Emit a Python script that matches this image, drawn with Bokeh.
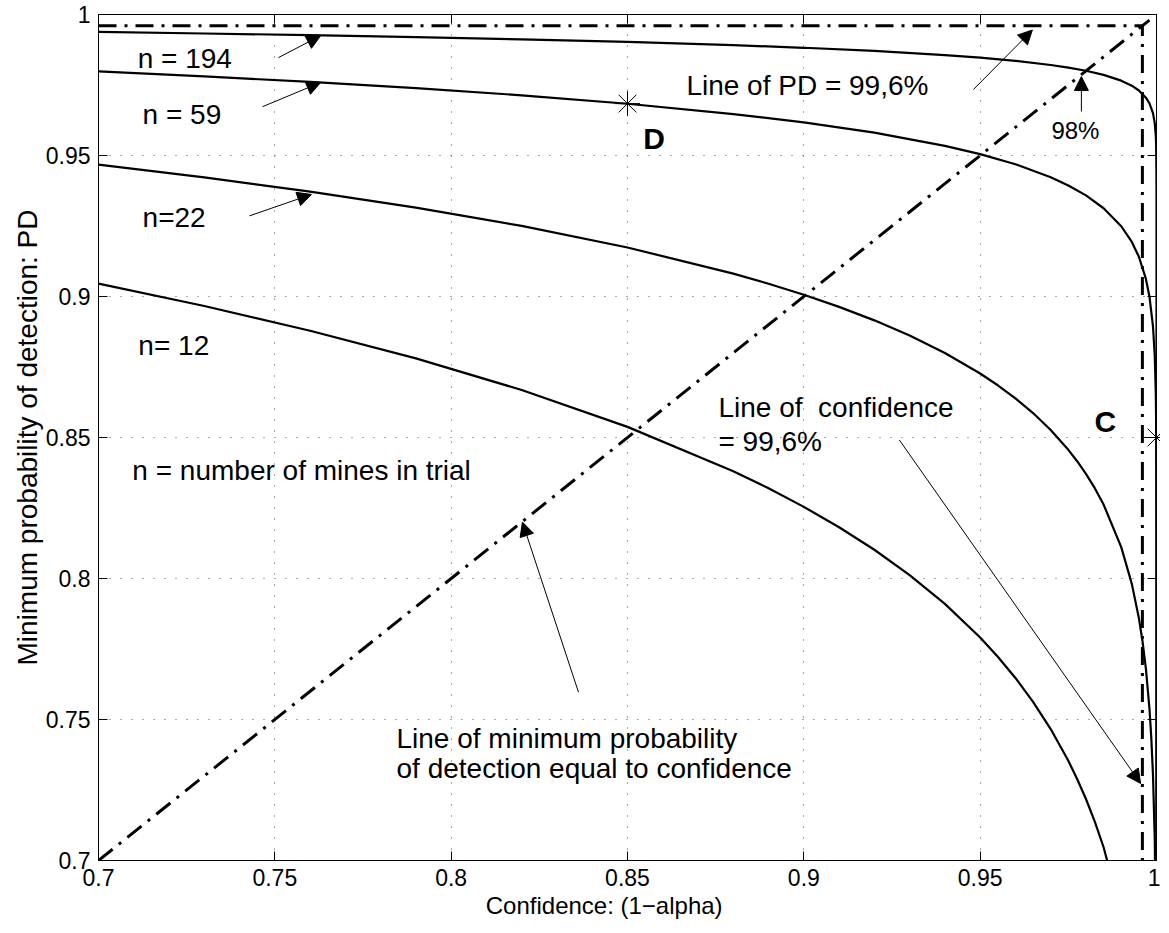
from bokeh.plotting import figure
from bokeh.models import (Arrow, NormalHead, Label, LinearAxis, FixedTicker,
                          CustomJSTickFormatter, Range1d)
from bokeh.embed import file_html
from bokeh.resources import INLINE

# ---------------- data ----------------
ticks = [0.7, 0.75, 0.8, 0.85, 0.9, 0.95, 1.0]

conf_n12 = [0.70, 0.73, 0.76, 0.79, 0.82, 0.85, 0.88, 0.89, 0.90, 0.91, 0.92, 0.93,
            0.94, 0.95, 0.955, 0.96, 0.965, 0.97, 0.975, 0.9775, 0.98, 0.9825, 0.985, 0.99]
pd_n12 = [0.90454, 0.89663, 0.88787, 0.87805, 0.86684, 0.85377, 0.83804, 0.83199, 0.82540,
          0.81819, 0.81020, 0.80123, 0.79101, 0.77908, 0.77227, 0.76473, 0.75626, 0.74661,
          0.73535, 0.72892, 0.72180, 0.71382, 0.70470, 0.68129]

conf_n22 = [0.70, 0.73, 0.76, 0.79, 0.82, 0.85, 0.88, 0.89, 0.90, 0.91, 0.92, 0.93, 0.94,
            0.95, 0.955, 0.96, 0.965, 0.97, 0.975, 0.9775, 0.98, 0.9825, 0.985, 0.99, 0.993,
            0.995, 0.996, 0.997, 0.998, 0.9985, 0.999, 0.9995, 0.9998]
pd_n22 = [0.94674, 0.94222, 0.93719, 0.93152, 0.92502, 0.91738, 0.90812, 0.90454, 0.90063,
          0.89633, 0.89154, 0.88614, 0.87996, 0.87269, 0.86852, 0.86389, 0.85866, 0.85266,
          0.84563, 0.84159, 0.83709, 0.83203, 0.82622, 0.81113, 0.79809, 0.78597, 0.77804,
          0.76793, 0.75391, 0.74412, 0.73053, 0.70787, 0.67899]

conf_n59 = [0.70, 0.73, 0.76, 0.79, 0.82, 0.85, 0.88, 0.90, 0.92, 0.94, 0.95, 0.96, 0.97,
            0.975, 0.98, 0.985, 0.99, 0.993, 0.995, 0.997, 0.998, 0.999, 0.9995, 0.9998,
            0.9999, 0.99999, 1.0, 1.0, 1.0]
pd_n59 = [0.97980, 0.97805, 0.97610, 0.97390, 0.97135, 0.96836, 0.96470, 0.96173, 0.95809,
          0.95343, 0.95049, 0.94690, 0.94230, 0.93939, 0.93585, 0.93129, 0.92491, 0.91934,
          0.91411, 0.90623, 0.90003, 0.88951, 0.87912, 0.86558, 0.85547, 0.82272, 0.79124,
          0.73182, 0.67688]

conf_n194 = [0.70, 0.73, 0.76, 0.79, 0.82, 0.85, 0.88, 0.90, 0.92, 0.94, 0.95, 0.96, 0.97,
             0.975, 0.98, 0.985, 0.99, 0.993, 0.995, 0.997, 0.998, 0.999, 0.9995, 0.9998,
             0.9999, 0.99999, 1.0, 1.0]
pd_n194 = [0.99381, 0.99327, 0.99267, 0.99199, 0.99120, 0.99027, 0.98913, 0.98820, 0.98707,
           0.98560, 0.98468, 0.98355, 0.98209, 0.98117, 0.98004, 0.97859, 0.97654, 0.97475,
           0.97306, 0.97050, 0.96847, 0.96502, 0.96158, 0.95705, 0.95363, 0.94238, 0.93126,
           0.68399]

level = 0.996            # confidence / PD level of the dash-dot box
diag = [0.7, 0.998]      # PD = confidence line
point_D = (0.85, 0.9684)
point_C = (1.0, 0.85)

# ---------------- figure ----------------
FONT = "Liberation Sans"
p = figure(width=1160, height=926,
           x_range=Range1d(0.7, 1.0), y_range=Range1d(0.7, 1.0),
           output_backend="svg", toolbar_location=None,
           min_border_left=98, min_border_top=14, min_border_right=4, min_border_bottom=66)
p.title.visible = False
p.background_fill_color = "white"
p.border_fill_color = "white"
p.outline_line_color = "black"
p.outline_line_width = 1

fmt = CustomJSTickFormatter(code="return String(Math.round(tick*100)/100);")
for ax in (p.xaxis[0], p.yaxis[0]):
    ax.ticker = FixedTicker(ticks=ticks)
    ax.formatter = fmt
    ax.major_tick_in = 9
    ax.major_tick_out = 0
    ax.minor_tick_line_color = None
    ax.axis_line_color = "black"
    ax.major_tick_line_color = "black"
    ax.major_label_text_font = FONT
    ax.major_label_text_font_size = "23px"
    ax.major_label_text_color = "black"
    ax.axis_label_text_font = FONT
    ax.axis_label_text_font_style = "normal"
    ax.axis_label_text_color = "black"

# the reference's x label sits a little left of centre
p.xaxis.axis_label = "Confidence: (1\u2212alpha)" + "\u00a0" * 7
p.yaxis.axis_label = "Minimum probability of detection: PD"
p.xaxis.axis_label_text_font_size = "24px"
p.yaxis.axis_label_text_font_size = "28px"
p.xaxis.major_label_standoff = 8
p.yaxis.major_label_standoff = 8
p.xaxis.axis_label_standoff = 3
p.yaxis.axis_label_standoff = 0

blank = CustomJSTickFormatter(code="return '';")
for side in ("above", "right"):
    ax = LinearAxis(ticker=FixedTicker(ticks=ticks), formatter=blank,
                    major_tick_in=9, major_tick_out=0, minor_tick_line_color=None,
                    major_label_text_font_size="0px", major_label_standoff=0,
                    axis_line_color="black")
    p.add_layout(ax, side)

p.xgrid.grid_line_color = "#555555"
p.ygrid.grid_line_color = "#555555"
p.xgrid.grid_line_dash = "1 10"
p.ygrid.grid_line_dash = "1 10"
p.xgrid.grid_line_width = 1
p.ygrid.grid_line_width = 1

# curves
for cx, cy in ((conf_n12, pd_n12), (conf_n22, pd_n22), (conf_n59, pd_n59), (conf_n194, pd_n194)):
    p.line(cx, cy, line_color="black", line_width=2.2)

# dash-dot lines
dd = "18 8 3 8"
p.line(diag, diag, line_color="black", line_width=3, line_dash=dd)
p.line([0.7, level, level], [level, level, 0.7], line_color="black", line_width=3, line_dash=dd)

# star markers
p.scatter([point_D[0], point_C[0]], [point_D[1], point_C[1]], marker="asterisk",
          size=25, line_color="black", line_width=1, level="overlay")

# arrows
arrows = [
    (0.751, 0.9847, 0.763, 0.9925),
    (0.7465, 0.9673, 0.763, 0.9759),
    (0.7428, 0.9286, 0.7604, 0.9362),
    (0.9481, 0.9734, 0.9648, 0.9945),
    (0.9787, 0.9656, 0.9787, 0.9780),
    (0.9271, 0.8491, 0.9955, 0.7273),
    (0.8361, 0.7597, 0.8202, 0.8200),
]
for xs, ys, xe, ye in arrows:
    p.add_layout(Arrow(x_start=xs, y_start=ys, x_end=xe, y_end=ye,
                       line_color="black", line_width=1,
                       end=NormalHead(size=14, fill_color="black", line_color="black", line_width=1)))

def lab(x, y, t, size="28px", style="normal"):
    p.add_layout(Label(x=x, y=y, text=t, text_font=FONT, text_font_size=size,
                       text_font_style=style, text_baseline="alphabetic", text_align="left",
                       text_color="black"))

lab(0.7111, 0.98425, "n = 194")
lab(0.7125, 0.9645, "n = 59")
lab(0.7125, 0.9280, "n=22")
lab(0.7113, 0.8825, "n= 12")
lab(0.7096, 0.83845, "n = number of mines in trial")
lab(0.8545, 0.9561, "D", "30px", "bold")
lab(0.9824, 0.8558, "C", "30px", "bold")
lab(0.8667, 0.97475, "Line of PD = 99,6%")
lab(0.9702, 0.9587, "98%", "24px")
lab(0.8758, 0.8607, "Line of\u00a0 confidence")
lab(0.8758, 0.84855, "= 99,6%")
lab(0.7845, 0.74325, "Line of minimum probability")
lab(0.7845, 0.7326, "of detection equal to confidence")

open("out.html", "w").write(file_html(p, INLINE))
